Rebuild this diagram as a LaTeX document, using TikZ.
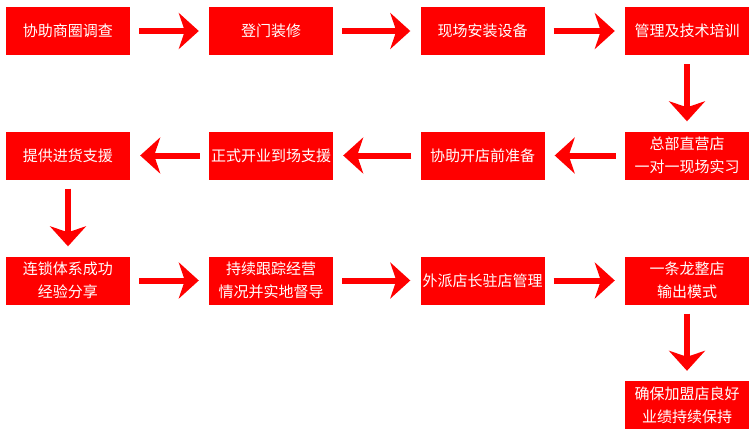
\documentclass[tikz,border=0pt]{standalone}
\usepackage{fontspec}
\setmainfont{Noto Sans CJK SC}
\usetikzlibrary{arrows.meta}
\definecolor{boxred}{HTML}{FF0000}

\begin{document}
\begin{tikzpicture}[x=1pt,y=-1pt,
    stepbox/.style={fill=boxred,text=white,minimum width=124pt,minimum height=48pt,inner sep=0pt,align=center,font=\fontsize{15}{23}\selectfont},
    flow/.style={boxred,line width=6pt,-{Stealth[length=20pt,width=36pt,inset=6pt]},shorten <=9pt,shorten >=10pt}]
    \useasboundingbox (0,0) rectangle (750,434);
    % row 1
    \node[stepbox] (survey) at (68,31) {协助商圈调查};
    \node[stepbox] (decor) at (271,31) {登门装修};
    \node[stepbox] (install) at (482.5,31) {现场安装设备};
    \node[stepbox] (train) at (687,31) {管理及技术培训};
    % row 2
    \node[stepbox] (intern) at (687,155.5) {总部直营店\\一对一现场实习};
    \node[stepbox] (prepare) at (482.5,155.5) {协助开店前准备};
    \node[stepbox] (opening) at (271,155.5) {正式开业到场支援};
    \node[stepbox] (supply) at (68,155.5) {提供进货支援};
    % row 3
    \node[stepbox] (share) at (68,280.5) {连锁体系成功\\经验分享};
    \node[stepbox] (follow) at (271,280.5) {持续跟踪经营\\情况并实地督导};
    \node[stepbox] (manager) at (482.5,280.5) {外派店长驻店管理};
    \node[stepbox] (model) at (687,280.5) {一条龙整店\\输出模式};
    % row 4
    \node[stepbox] (result) at (687,405) {确保加盟店良好\\业绩持续保持};
    % arrows
    \draw[flow] (survey) -- (decor);
    \draw[flow] (decor) -- (install);
    \draw[flow] (install) -- (train);
    \draw[flow] (train) -- (intern);
    \draw[flow] (intern) -- (prepare);
    \draw[flow] (prepare) -- (opening);
    \draw[flow] (opening) -- (supply);
    \draw[flow] (supply) -- (share);
    \draw[flow] (share) -- (follow);
    \draw[flow] (follow) -- (manager);
    \draw[flow] (manager) -- (model);
    \draw[flow] (model) -- (result);
\end{tikzpicture}
\end{document}
